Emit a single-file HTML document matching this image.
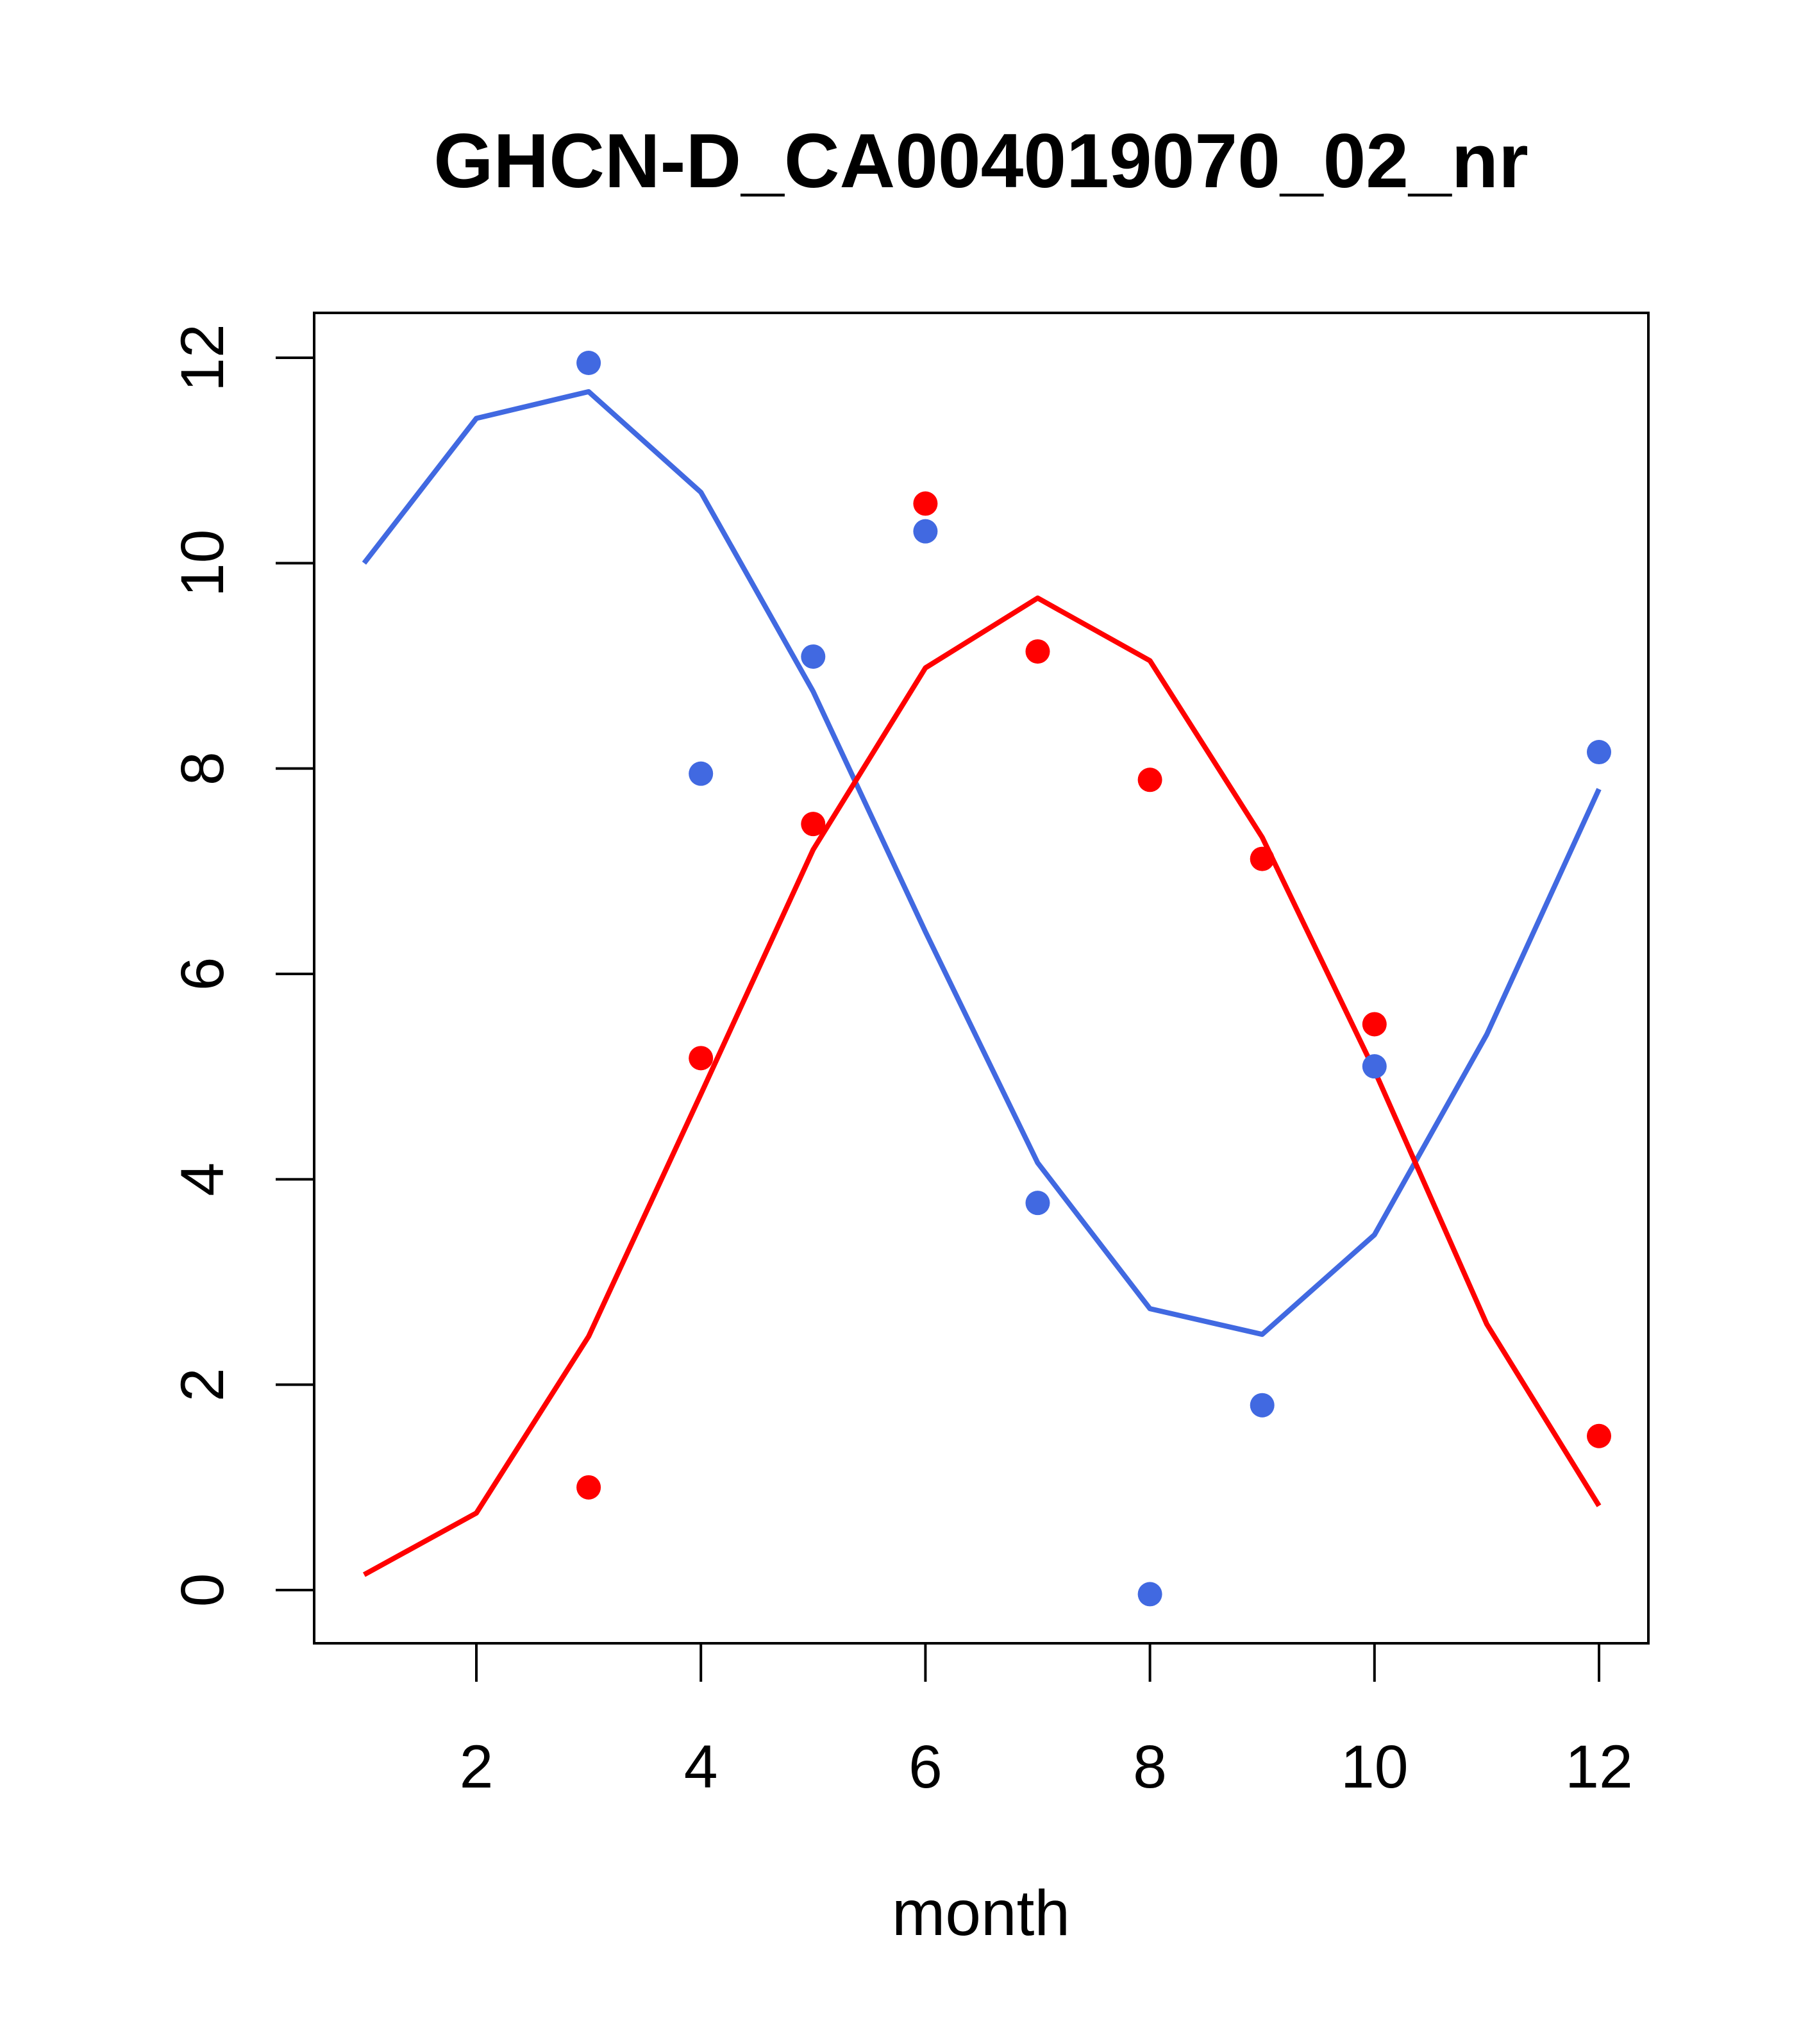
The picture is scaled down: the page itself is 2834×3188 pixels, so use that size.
<!DOCTYPE html>
<html><head><meta charset="utf-8">
<style>html,body{margin:0;padding:0;background:#fff}svg{display:block}text{font-family:"Liberation Sans",Arial,sans-serif}</style>
</head><body>
<svg id="chart" width="2834" height="3188" viewBox="0 0 2834 3188" xmlns="http://www.w3.org/2000/svg">
<rect x="0" y="0" width="2834" height="3188" fill="#fff"/>
<text x="1530" y="292" font-size="120" font-weight="bold" text-anchor="middle">GHCN-D_CA004019070_02_nr</text>
<rect x="490" y="488" width="2081" height="2075" fill="none" stroke="#000" stroke-width="4"/>
<text x="1530" y="3018" font-size="100" text-anchor="middle">month</text>
<g id="axes"></g>
<g id="marks"></g>
</svg>
<script>
const months = [1,2,3,4,5,6,7,8,9,10,11,12];
const blueLine = [10.0,11.41,11.67,10.69,8.75,6.41,4.16,2.74,2.49,3.46,5.41,7.80];
const redLine = [0.15,0.75,2.47,4.83,7.21,8.98,9.66,9.05,7.33,5.06,2.59,0.82];
const pointMonths = [3,4,5,6,7,8,9,10,12];
const bluePoints = [11.95,7.95,9.09,10.31,3.77,-0.04,1.80,5.10,8.16];
const redPoints = [1.0,5.18,7.46,10.58,9.14,7.89,7.12,5.51,1.50];
const xTicks = [2,4,6,8,10,12];
const yTicks = [0,2,4,6,8,10,12];

const NS = "http://www.w3.org/2000/svg";
function sx(m){ return 743 + (m-2)*(2494-743)/10; }
function sy(v){ return 2480 - v*(2480-558)/12; }
const axes = document.getElementById('axes');
const marks = document.getElementById('marks');
function mk(tag, attrs, parent){ const e=document.createElementNS(NS,tag); for(const k in attrs) e.setAttribute(k,attrs[k]); parent.appendChild(e); return e; }

xTicks.forEach(t=>{
  const l = mk('line',{x1:sx(t),x2:sx(t),y1:2563,y2:2623,stroke:'#000','stroke-width':4},axes);
  
  
  const tx = mk('text',{x:sx(t),y:2788,'font-size':95,'text-anchor':'middle'},axes);
  tx.textContent = t;
  
  
});
yTicks.forEach(t=>{
  const l = mk('line',{x1:430,x2:490,y1:sy(t),y2:sy(t),stroke:'#000','stroke-width':4},axes);
  
  
  const tx = mk('text',{x:0,y:0,'font-size':95,'text-anchor':'middle',transform:`translate(348,${sy(t)}) rotate(-90)`},axes);
  tx.textContent = t;
  
  
});

function drawLine(vals, color, name){
  const p = mk('polyline',{points: months.map((m,i)=>sx(m)+','+sy(vals[i])).join(' '), fill:'none', stroke:color,'stroke-width':8,'stroke-linejoin':'round'},marks);
  
  
}
function drawPts(vals, color, name){
  pointMonths.forEach((m,i)=>{
    const c = mk('circle',{cx:sx(m),cy:sy(vals[i]),r:19,fill:color},marks);
    
    
  });
}
drawLine(blueLine,'#4169E1','blue-line');
drawLine(redLine,'#FF0000','red-line');
drawPts(bluePoints,'#4169E1','blue-point');
drawPts(redPoints,'#FF0000','red-point');
</script>
</body></html>
